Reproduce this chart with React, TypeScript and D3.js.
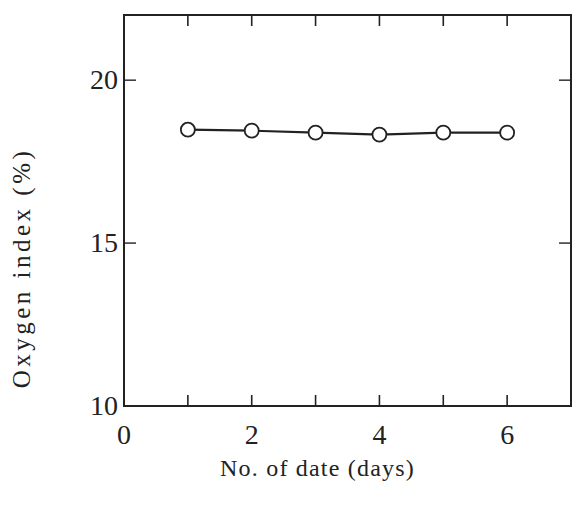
import React from "react";
import * as d3 from "d3";

const days = [1, 2, 3, 4, 5, 6];
const oxygenIndex = [18.48, 18.45, 18.39, 18.33, 18.39, 18.39];
const xTicks = [0, 2, 4, 6];
const xMinorTicks = [1, 2, 3, 4, 5, 6];
const yTicks = [10, 15, 20];
const yInnerTicks = [15, 20];

export default function App() {
  const W = 583, H = 509;
  const left = 124, right = 571, top = 15, bottom = 406;
  const x = d3.scaleLinear().domain([0, 7]).range([left, right]);
  const y = d3.scaleLinear().domain([10, 22]).range([bottom, top]);
  const line = d3.line<number>().x((_, i) => x(days[i])).y((d) => y(d));
  const ink = "#222";
  const font = "'Liberation Serif', 'DejaVu Serif', serif";
  return (
    <svg width={W} height={H} style={{ position: "absolute", left: 0, top: 0, background: "#fff" }}>
      <rect x={left} y={top} width={right - left} height={bottom - top} fill="none" stroke={ink} strokeWidth={2} />
      {xMinorTicks.map((t) => (
        <g key={"xt" + t}>
          <line x1={x(t)} x2={x(t)} y1={bottom} y2={bottom - 11} stroke={ink} strokeWidth={1.6} />
          <line x1={x(t)} x2={x(t)} y1={top} y2={top + 11} stroke={ink} strokeWidth={1.6} />
        </g>
      ))}
      {yInnerTicks.map((t) => (
        <g key={"yt" + t}>
          <line x1={left} x2={left + 12} y1={y(t)} y2={y(t)} stroke={ink} strokeWidth={1.4} />
          <line x1={right} x2={right - 12} y1={y(t)} y2={y(t)} stroke={ink} strokeWidth={1.4} />
        </g>
      ))}
      {xTicks.map((t) => (
        <text key={"xl" + t} x={x(t)} y={bottom + 38} textAnchor="middle" fontFamily={font} fontSize={28} fill={ink}>
          {t}
        </text>
      ))}
      {yTicks.map((t) => (
        <text key={"yl" + t} x={left - 6} y={y(t) + 9} textAnchor="end" fontFamily={font} fontSize={28} fill={ink}>
          {t}
        </text>
      ))}
      <path d={line(oxygenIndex) || ""} fill="none" stroke={ink} strokeWidth={2.2} />
      {oxygenIndex.map((v, i) => (
        <circle key={"p" + i} cx={x(days[i])} cy={y(v)} r={7} fill="#fff" stroke={ink} strokeWidth={1.8} />
      ))}
      <text x={(left + right) / 2 - 30} y={476} textAnchor="middle" fontFamily={font} fontSize={24} fill={ink} letterSpacing={1.2}>
        No. of date (days)
      </text>
      <text
        transform={`translate(30, 268) rotate(-90)`}
        textAnchor="middle"
        fontFamily={font}
        fontSize={25}
        fill={ink}
        letterSpacing={3.5}
      >
        Oxygen index (%)
      </text>
    </svg>
  );
}
